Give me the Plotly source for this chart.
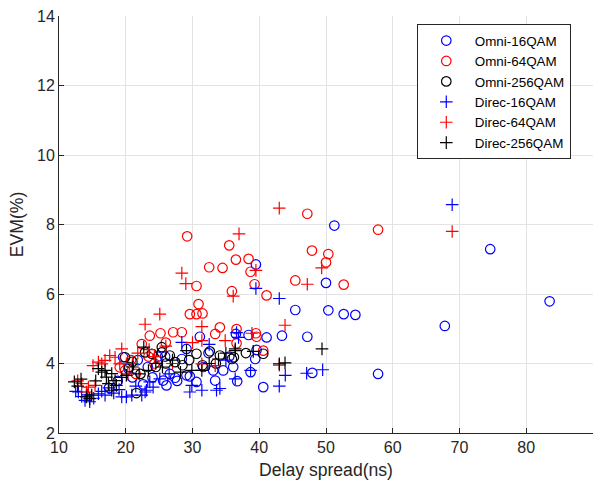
import plotly.graph_objects as go

# ---------------- data ----------------
omni16_x = [17.5, 18.8, 19.6, 20.4, 21.0, 21.8, 22.6, 23.3, 24.0, 24.8, 25.6, 25.9, 26.1, 26.6, 27.4,
            27.7, 28.4, 29.1, 29.1, 29.6, 30.6, 31.1, 31.6, 32.4, 33.1, 33.4, 34.6, 35.5, 36.1, 36.5,
            36.7, 38.4, 38.7, 39.4, 39.5, 39.6, 40.6, 41.1, 43.4, 45.4, 47.2, 47.95, 50.0, 50.35, 51.25,
            52.65, 54.4, 57.8, 67.8, 74.6, 83.5]
omni16_y = [3.30, 3.50, 4.18, 3.85, 3.60, 4.10, 3.40, 3.90, 3.60, 4.20, 3.51, 4.20, 3.37, 3.70, 3.59,
            3.50, 4.13, 3.66, 4.42, 3.63, 3.47, 4.77, 3.90, 4.30, 3.80, 3.51, 3.80, 4.20, 3.90, 4.85,
            3.49, 4.82, 3.75, 4.13, 6.85, 4.39, 3.32, 4.75, 4.80, 5.54, 4.77, 3.73, 6.32, 5.53, 7.97,
            5.42, 5.40, 3.70, 5.08, 7.29, 5.79]

omni64_x = [19.1, 19.9, 20.8, 21.5, 22.4, 23.4, 23.6, 24.3, 25.2, 26.0, 27.1, 28.4, 29.2, 29.6, 30.6,
            30.6, 30.9, 31.5, 32.5, 33.4, 34.1, 34.5, 35.5, 35.9, 36.5, 36.6, 36.6, 38.4, 38.7, 39.3,
            39.5, 39.6, 40.6, 41.1, 45.4, 47.2, 47.9, 50.0, 50.35, 52.65, 57.8]
omni64_y = [3.89, 3.80, 4.10, 3.70, 4.56, 4.20, 4.80, 4.00, 4.87, 4.60, 4.90, 4.90, 7.66, 5.42, 5.42,
            6.23, 5.71, 5.44, 6.77, 4.85, 5.04, 6.75, 7.40, 6.08, 6.99, 4.99, 4.58, 7.01, 6.64, 6.28,
            4.87, 4.77, 4.37, 5.96, 6.39, 8.31, 7.25, 6.91, 7.15, 6.27, 7.85]

omni256_x = [19.9, 20.5, 21.0, 21.6, 22.2, 22.9, 23.9, 24.5, 25.4, 25.4, 26.0, 26.6, 27.4, 28.5, 29.5,
             30.6, 31.5, 32.6, 33.5, 34.1, 35.9, 36.2, 38.0, 40.6]
omni256_y = [4.18, 3.90, 4.05, 3.15, 3.70, 4.32, 4.28, 3.90, 4.47, 4.32, 4.00, 4.23, 4.04, 3.95, 4.10,
             4.28, 3.95, 4.35, 4.00, 4.23, 4.13, 4.18, 4.30, 4.28]

direc16_x = [12.5, 12.9, 13.4, 13.9, 14.3, 14.6, 15.2, 15.9, 16.4, 16.9, 17.5, 18.2, 19.0, 19.4, 20.1,
             20.9, 21.5, 22.4, 22.9, 23.1, 23.6, 24.1, 25.1, 26.5, 28.4, 29.6, 29.9, 31.4, 32.5, 33.6,
             34.1, 35.0, 36.4, 36.6, 36.9, 38.7, 39.5, 43.0, 43.0, 43.9, 47.1, 49.5, 68.9]
direc16_y = [3.20, 3.18, 3.05, 2.94, 3.10, 2.90, 3.00, 3.13, 3.20, 3.09, 3.30, 3.15, 3.25, 3.04, 3.04,
             3.09, 3.35, 3.09, 3.18, 3.23, 3.47, 3.32, 3.56, 3.70, 4.61, 3.18, 3.37, 3.23, 4.55, 3.23,
             3.28, 4.10, 3.56, 4.89, 4.75, 3.80, 6.16, 5.87, 3.35, 3.66, 3.72, 3.82, 8.57]

direc64_x = [12.8, 13.4, 14.1, 14.4, 15.1, 15.4, 15.9, 16.4, 16.9, 17.6, 18.4, 19.1, 19.4, 20.3, 21.0,
             21.8, 22.9, 23.5, 24.3, 25.1, 26.0, 27.0, 28.4, 29.0, 30.0, 31.4, 31.4, 31.4, 33.4, 34.9,
             36.1, 36.97, 38.9, 39.5, 43.0, 43.0, 43.86, 47.2, 49.35, 68.9]
direc64_y = [3.50, 3.42, 3.18, 3.32, 3.94, 3.37, 4.04, 3.99, 4.09, 4.23, 4.18, 3.99, 4.42, 3.70, 4.00,
             4.30, 5.13, 4.40, 4.20, 5.42, 4.50, 4.00, 6.60, 6.30, 4.60, 5.06, 4.66, 3.99, 3.94, 4.66,
             5.94, 7.73, 4.87, 6.68, 8.47, 3.95, 5.10, 6.28, 6.75, 7.80]

direc256_x = [12.3, 12.8, 13.3, 14.1, 14.6, 14.9, 15.5, 15.9, 16.4, 16.9, 17.1, 17.4, 17.9, 17.9, 18.4,
              18.6, 19.4, 20.1, 21.0, 22.0, 22.7, 23.4, 24.5, 25.5, 27.0, 28.2, 29.1, 29.9, 31.4, 32.5,
              33.9, 35.0, 36.4, 36.4, 39.1, 43.0, 43.86, 49.4]
direc256_y = [3.47, 3.35, 3.55, 3.04, 2.99, 3.09, 3.50, 3.85, 3.75, 3.80, 3.61, 3.42, 3.71, 3.23, 3.51,
              3.37, 3.60, 3.66, 3.90, 3.70, 4.47, 3.80, 4.00, 3.90, 4.10, 3.75, 4.37, 3.80, 3.80, 4.00,
              4.13, 4.30, 4.37, 4.42, 4.35, 3.99, 4.02, 4.42]

x_ticks = [10, 20, 30, 40, 50, 60, 70, 80, 90]
y_ticks = [2, 4, 6, 8, 10, 12, 14]

# ---------------- figure ----------------
FONT = "Liberation Sans, Arial, Helvetica, sans-serif"
AX = "rgb(38,38,38)"
GRID = "rgb(227,227,227)"

series = [
    ("Omni-16QAM", omni16_x, omni16_y, "circle-open", "rgb(0,0,255)"),
    ("Omni-64QAM", omni64_x, omni64_y, "circle-open", "rgb(255,0,0)"),
    ("Omni-256QAM", omni256_x, omni256_y, "circle-open", "rgb(0,0,0)"),
    ("Direc-16QAM", direc16_x, direc16_y, "cross-thin-open", "rgb(0,0,255)"),
    ("Direc-64QAM", direc64_x, direc64_y, "cross-thin-open", "rgb(255,0,0)"),
    ("Direc-256QAM", direc256_x, direc256_y, "cross-thin-open", "rgb(0,0,0)"),
]

fig = go.Figure()
for name, xs, ys, sym, col in series:
    is_circle = sym.startswith("circle")
    fig.add_trace(go.Scatter(
        x=xs, y=ys, mode="markers", name=name,
        marker=dict(symbol=sym, size=9.5 if is_circle else 9,
                    color=col, line=dict(color=col, width=1.2)),
    ))

fig.update_layout(
    width=601, height=485,
    margin=dict(l=59, r=8, t=13, b=52),
    paper_bgcolor="white", plot_bgcolor="white",
    font=dict(family=FONT, size=16, color=AX),
    legend=dict(
        x=0.670, y=0.980, xanchor="left", yanchor="top",
        bgcolor="white", bordercolor="rgb(38,38,38)", borderwidth=1,
        font=dict(size=13.4, color="black"),
        itemwidth=47,
    ),
    showlegend=True,
)
fig.update_xaxes(
    range=[10, 90], tickvals=x_ticks, ticktext=[str(v) for v in x_ticks],
    showgrid=True, gridcolor=GRID, gridwidth=1,
    showline=True, linecolor=AX, linewidth=1,
    ticks="inside", ticklen=5, tickcolor=AX,
    zeroline=False, mirror=False,
    title=dict(text="Delay spread(ns)", font=dict(size=17.6, color=AX), standoff=8),
    tickfont=dict(size=16, color=AX),
)
fig.update_yaxes(
    range=[2, 14], tickvals=y_ticks, ticktext=[str(v) for v in y_ticks],
    showgrid=True, gridcolor=GRID, gridwidth=1,
    showline=True, linecolor=AX, linewidth=1,
    ticks="inside", ticklen=5, tickcolor=AX,
    zeroline=False, mirror=False,
    title=dict(text="EVM(%)", font=dict(size=17.6, color=AX), standoff=8),
    tickfont=dict(size=16, color=AX),
)

fig.write_html("out.html")
